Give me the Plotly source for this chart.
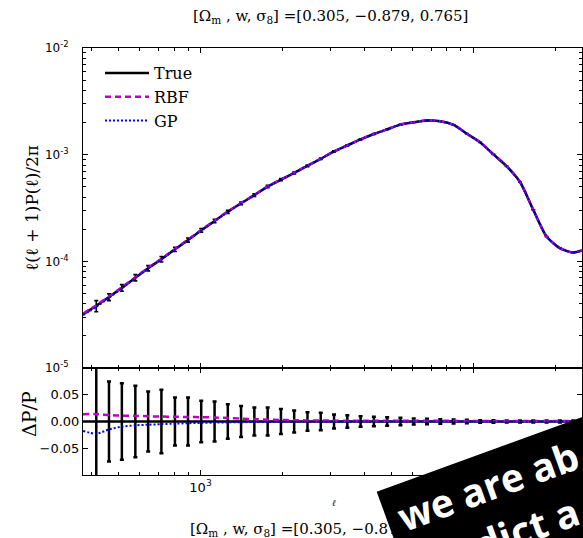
import plotly.graph_objects as go

# ---------------- data ----------------
# multipole values of the curves (first/last entries are the plot edges)
ell = [371, 415, 462, 515, 577, 643, 719, 806, 900, 1006, 1126, 1259, 1408, 1575,
       1762, 1971, 2204, 2466, 2758, 3085, 3451, 3860, 4318, 4830, 5403, 6044,
       6760, 7563, 8460, 9463, 10585, 11841, 13245, 14816, 16574, 18540, 20740,
       23200, 25000]

# l(l+1)P(l)/2pi of the "True" model
p_true = [3.19e-5, 3.825e-5, 4.624e-5, 5.64e-5, 7.03e-5, 8.63e-5, 1.048e-4,
          1.296e-4, 1.585e-4, 1.953e-4, 2.388e-4, 2.913e-4, 3.50e-4, 4.178e-4,
          5.02e-4, 5.83e-4, 6.75e-4, 7.87e-4, 9.15e-4, 1.072e-3, 1.220e-3,
          1.389e-3, 1.561e-3, 1.727e-3, 1.912e-3, 2.013e-3, 2.089e-3, 2.058e-3,
          1.903e-3, 1.571e-3, 1.304e-3, 1.006e-3, 7.78e-4, 5.54e-4, 3.04e-4,
          1.708e-4, 1.33e-4, 1.209e-4, 1.263e-4]

# fractional residuals of the emulators, DeltaP/P
rbf_frac = [0.0137, 0.0137, 0.012, 0.0108, 0.0105, 0.0098, 0.0092, 0.0088, 0.0085,
            0.008, 0.0075, 0.0065, 0.0052, 0.0043, 0.0035, 0.0028, 0.0024, 0.002,
            0.0018, 0.0016, 0.0015, 0.0015, 0.0014, 0.0014, 0.0013, 0.0013, 0.0012,
            0.0012, 0.0012, 0.0011, 0.0011, 0.001, 0.001, 0.001, 0.001, 0.001,
            0.001, 0.001, 0.001]
gp_frac = [-0.0176, -0.023, -0.0148, -0.0095, -0.0072, -0.006, -0.005, -0.004,
           -0.0032, -0.0026, -0.002, -0.0016, -0.0013, -0.001, -0.0008, -0.0006,
           -0.0005, -0.0004, -0.0003, -0.0003, -0.0002, -0.0002, -0.0001, -0.0001,
           0.0, 0.0, 0.0, 0.0, 0.0, 0.0, 0.0, 0.0, 0.0, 0.0, 0.0, 0.0, 0.0, 0.0, 0.0]

# binned error bars (bins = ell[1:-1]); fractional 1-sigma errors
ell_bins = ell[1:-1]
err_frac = [0.12, 0.0749, 0.0717, 0.0667, 0.0562, 0.0592, 0.045, 0.045, 0.0386,
            0.0375, 0.0324, 0.0292, 0.0262, 0.0262, 0.0235, 0.0205, 0.0174, 0.0163,
            0.0131, 0.0118, 0.0099, 0.0088, 0.008, 0.0069, 0.0056, 0.005, 0.0043,
            0.0037, 0.0032, 0.0024, 0.0022, 0.002, 0.002, 0.0019, 0.0018, 0.0018,
            0.0017]

series_names = ["True", "RBF", "GP"]
y_ticks_top = [1e-5, 1e-4, 1e-3, 1e-2]
y_ticktext_top = ["10<sup>-5</sup>", "10<sup>-4</sup>", "10<sup>-3</sup>", "10<sup>-2</sup>"]
y_ticks_bot = [-0.05, 0.0, 0.05]
y_ticktext_bot = ["\u22120.05", "0.00", "0.05"]
x_ticks = [1e3, 1e4]
x_ticktext = ["10<sup>3</sup>", "10<sup>4</sup>"]
title_text = "[\u03a9<sub>m</sub> , w, \u03c3<sub>8</sub>] =[0.305, \u22120.879, 0.765]"

# ---------------- derived ----------------
p_rbf = [p * (1 + f) for p, f in zip(p_true, rbf_frac)]
p_gp = [p * (1 + f) for p, f in zip(p_true, gp_frac)]
p_bins = p_true[1:-1]
p_err = [p * e for p, e in zip(p_bins, err_frac)]
zeros = [0.0 for _ in ell]

# ---------------- geometry ----------------
W, H = 583, 538
ML, MR, MT, MB = 83, 1, 48, 63
PW, PH = W - ML - MR, H - MT - MB


def px(x):
    return (x - ML) / PW


def py(y):
    return (H - MB - y) / PH


split = py(368)

BLACK = "#000000"
MAG = "#bf00bf"
BLUE = "#0000ff"
SERIF = "DejaVu Serif"
SANS = "DejaVu Sans"
SM = 0.7

fig = go.Figure()

# upper panel
fig.add_trace(go.Scatter(x=ell, y=p_true, mode="lines", name=series_names[0],
                         line=dict(color=BLACK, width=2.5, shape="spline", smoothing=SM),
                         xaxis="x", yaxis="y", legendgroup="a"))
fig.add_trace(go.Scatter(x=ell_bins, y=p_bins, mode="markers", showlegend=False,
                         marker=dict(size=1, color=BLACK),
                         error_y=dict(type="data", array=p_err, color=BLACK,
                                      thickness=1.6, width=2),
                         xaxis="x", yaxis="y"))
fig.add_trace(go.Scatter(x=ell, y=p_rbf, mode="lines", name=series_names[1],
                         line=dict(color=MAG, width=2.5, dash="6px,4px", shape="spline",
                                   smoothing=SM),
                         xaxis="x", yaxis="y", legendgroup="b"))
fig.add_trace(go.Scatter(x=ell, y=p_gp, mode="lines", name=series_names[2],
                         line=dict(color=BLUE, width=2, dash="2px,2px", shape="spline",
                                   smoothing=SM),
                         xaxis="x", yaxis="y", legendgroup="c"))

# lower panel
fig.add_trace(go.Scatter(x=ell, y=zeros, mode="lines", showlegend=False,
                         line=dict(color=BLACK, width=2.5), xaxis="x2", yaxis="y2"))
fig.add_trace(go.Scatter(x=ell_bins, y=[0.0 for _ in ell_bins], mode="markers",
                         showlegend=False, marker=dict(size=1, color=BLACK),
                         error_y=dict(type="data", array=err_frac, color=BLACK,
                                      thickness=2.5, width=2),
                         xaxis="x2", yaxis="y2"))
fig.add_trace(go.Scatter(x=ell, y=rbf_frac, mode="lines", showlegend=False,
                         line=dict(color=MAG, width=2.5, dash="6px,4px", shape="spline",
                                   smoothing=SM),
                         xaxis="x2", yaxis="y2"))
fig.add_trace(go.Scatter(x=ell, y=gp_frac, mode="lines", showlegend=False,
                         line=dict(color=BLUE, width=2, dash="2px,2px", shape="spline",
                                   smoothing=SM),
                         xaxis="x2", yaxis="y2"))

xrange = [2.5694, 4.3979]
axis_common = dict(showline=True, linecolor=BLACK, linewidth=1, mirror="allticks",
                   ticks="inside", tickcolor=BLACK, showgrid=False, zeroline=False)
minor_ticks = dict(ticks="inside", ticklen=3, dtick="D1", tickcolor=BLACK, showgrid=False)

fig.update_layout(
    width=W, height=H,
    margin=dict(l=ML, r=MR, t=MT, b=MB, pad=0),
    paper_bgcolor="white", plot_bgcolor="white",
    xaxis=dict(type="log", range=xrange, domain=[0, 1], anchor="y",
               tickvals=x_ticks, showticklabels=False, ticklen=5,
               minor=minor_ticks, **axis_common),
    yaxis=dict(type="log", range=[-5, -2], domain=[split, 1], anchor="x",
               tickvals=y_ticks_top, ticktext=y_ticktext_top, ticklen=5,
               tickfont=dict(family=SANS, size=12, color=BLACK),
               ticklabelstandoff=11, minor=minor_ticks, **axis_common),
    xaxis2=dict(type="log", range=xrange, domain=[0, 1], anchor="y2", matches="x",
                tickvals=x_ticks, ticktext=x_ticktext, ticklen=5,
                tickfont=dict(family=SANS, size=13, color=BLACK),
                minor=minor_ticks, **axis_common),
    yaxis2=dict(range=[-0.1, 0.1], domain=[0, split], anchor="x2",
                tickvals=y_ticks_bot, ticktext=y_ticktext_bot, ticklen=5,
                tickfont=dict(family=SANS, size=13, color=BLACK),
                **axis_common),
    legend=dict(x=px(100), y=py(56), xanchor="left", yanchor="top",
                bgcolor="rgba(0,0,0,0)", borderwidth=0,
                font=dict(family=SERIF, size=16, color=BLACK),
                traceorder="grouped", tracegroupgap=0, itemwidth=44),
    showlegend=True,
)

annotations = [
    dict(x=px(330), y=py(17), text=title_text, font=dict(family=SERIF, size=15, color=BLACK)),
    dict(x=px(32), y=py(208), text="\u2113(\u2113 + 1)P(\u2113)/2\u03c0", textangle=-90,
         font=dict(family=SERIF, size=17, color=BLACK)),
    dict(x=px(29), y=py(414), text="\u0394P/P", textangle=-90,
         font=dict(family=SERIF, size=19, color=BLACK)),
    dict(x=px(334), y=py(503), text="<i>\u2113</i>", font=dict(family=SERIF, size=9, color=BLACK)),
    dict(x=px(188), y=py(529), text=title_text, xanchor="left",
         font=dict(family=SERIF, size=15, color=BLACK)),
    dict(x=px(487), y=py(485), text="we are ab", textangle=-20,
         font=dict(family="Open Sans", size=39, color="white", weight=700)),
    dict(x=px(526), y=py(527), text="dict a", textangle=-20,
         font=dict(family="Open Sans", size=39, color="white", weight=700)),
]
for a in annotations:
    a.setdefault("xanchor", "center")
    a.setdefault("yanchor", "middle")
    a.update(xref="paper", yref="paper", showarrow=False)
fig.update_layout(annotations=annotations)

# black banner overlay
A = (376.7, 491.7)
B = (A[0] + 420 * 0.94, A[1] - 420 * 0.342)
C = (B[0] + 170 * 0.342, B[1] + 170 * 0.94)
D = (A[0] + 170 * 0.342, A[1] + 170 * 0.94)
path = "M {} {} L {} {} L {} {} L {} {} Z".format(
    px(A[0]), py(A[1]), px(B[0]), py(B[1]), px(C[0]), py(C[1]), px(D[0]), py(D[1]))
fig.add_shape(type="path", path=path, xref="paper", yref="paper",
              fillcolor="black", line=dict(width=0), layer="above")

fig.write_html("out.html", config={"displayModeBar": False},
               post_script="document.body.style.margin='0px';document.body.style.overflow='hidden';")
